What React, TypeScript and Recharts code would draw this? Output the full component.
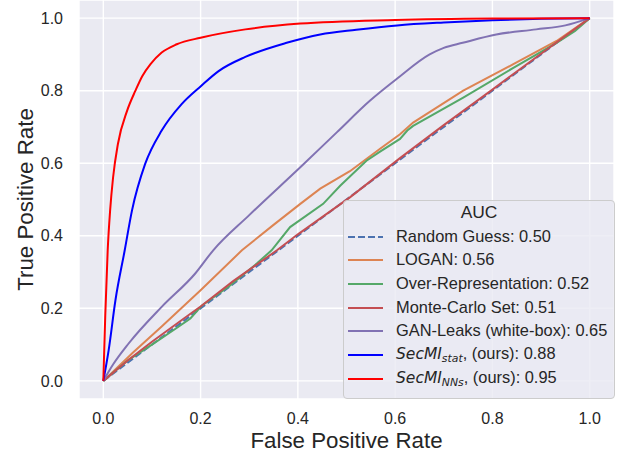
import React from 'react'
import { LineChart, Line, XAxis, YAxis, CartesianGrid, Legend } from 'recharts'

// ROC points, per method (false positive rate / true positive rate)
const fprRandom = [0, 1]
const tprRandom = [0, 1]

const fprLogan = [0, 0.06, 0.12, 0.2, 0.285, 0.35, 0.405, 0.446, 0.507, 0.569, 0.61, 0.637, 0.74, 0.843, 0.932, 1]
const tprLogan = [0, 0.077, 0.15, 0.25, 0.36, 0.43, 0.488, 0.53, 0.578, 0.64, 0.68, 0.712, 0.8, 0.873, 0.937, 1]

const fprOver = [0, 0.052, 0.1, 0.15, 0.179, 0.203, 0.26, 0.316, 0.346, 0.384, 0.452, 0.487, 0.541, 0.569, 0.61, 0.625, 0.637, 0.74, 0.843, 0.932, 0.97, 1]
const tprOver = [0, 0.058, 0.1, 0.145, 0.172, 0.208, 0.262, 0.324, 0.36, 0.424, 0.488, 0.538, 0.607, 0.632, 0.667, 0.69, 0.703, 0.781, 0.863, 0.932, 0.965, 1]

const fprMonte = [0, 0.05, 0.1, 0.172, 0.2, 0.267, 0.357, 0.4, 0.507, 0.61, 0.7, 0.8, 0.9, 1]
const tprMonte = [0, 0.056, 0.108, 0.178, 0.205, 0.275, 0.36, 0.404, 0.506, 0.614, 0.705, 0.803, 0.902, 1]

const fprGan = [0, 0.02, 0.052, 0.12, 0.189, 0.226, 0.3, 0.405, 0.48, 0.548, 0.603, 0.671, 0.7, 0.739, 0.808, 0.89, 0.95, 1]
const tprGan = [0, 0.045, 0.103, 0.204, 0.296, 0.36, 0.457, 0.589, 0.685, 0.772, 0.832, 0.9, 0.918, 0.932, 0.955, 0.969, 0.98, 1]

const fprStat = [0, 0.011, 0.025, 0.044, 0.059, 0.086, 0.12, 0.161, 0.201, 0.237, 0.292, 0.377, 0.446, 0.52, 0.604, 0.7, 0.8, 0.9, 1]
const tprStat = [0, 0.085, 0.223, 0.36, 0.47, 0.598, 0.69, 0.763, 0.813, 0.854, 0.893, 0.932, 0.955, 0.968, 0.98, 0.988, 0.994, 0.998, 1]

const fprNns = [0, 0.004, 0.009, 0.014, 0.02, 0.03, 0.049, 0.066, 0.08, 0.097, 0.12, 0.151, 0.2, 0.292, 0.405, 0.6, 0.8, 1]
const tprNns = [0, 0.18, 0.36, 0.47, 0.56, 0.653, 0.745, 0.8, 0.84, 0.873, 0.905, 0.928, 0.946, 0.969, 0.985, 0.995, 0.999, 1]

const ticks = [0, 0.2, 0.4, 0.6, 0.8, 1.0]

const seriesNames = ['Random Guess', 'LOGAN', 'Over-Representation', 'Monte-Carlo Set', 'GAN-Leaks (white-box)', 'SecMI_stat', 'SecMI_NNs']
const seriesAuc = ['0.50', '0.56', '0.52', '0.51', '0.65', '0.88', '0.95']
const seriesColors = ['#4C72B0', '#DD8452', '#55A868', '#C44E52', '#8172B3', '#0000FF', '#FF0000']

const zip = (xs: number[], ys: number[]) => xs.map((x, i) => ({ x, y: ys[i] }))

const seriesData = [
  zip(fprRandom, tprRandom),
  zip(fprLogan, tprLogan),
  zip(fprOver, tprOver),
  zip(fprMonte, tprMonte),
  zip(fprGan, tprGan),
  zip(fprStat, tprStat),
  zip(fprNns, tprNns),
]

const FONT = '"Liberation Sans", Arial, sans-serif'
const TEXT = '#262626'

function LegendLabel({ name, auc }: { name: string; auc: string }) {
  if (name.startsWith('SecMI_')) {
    const sub = name.slice(6)
    return (
      <span>
        <span style={{ fontStyle: 'italic', fontFamily: '"DejaVu Sans", sans-serif', fontSize: 15.5 }}>
          SecMI
          <span style={{ fontSize: '0.7em', position: 'relative', top: '0.3em' }}>{sub}</span>
        </span>
        , (ours): {auc}
      </span>
    )
  }
  return <span>{name}: {auc}</span>
}

function renderLegend(props: any) {
  const payload: any[] = props.payload || []
  // keep the plotting order, not recharts' alphabetical order
  const ordered = seriesNames
    .map((n) => payload.find((p) => p.value === n))
    .filter(Boolean)
  return (
    <div
      style={{
        boxSizing: 'border-box',
        width: 272,
        height: 199,
        border: '1px solid #CCCCCC',
        borderRadius: 4,
        background: 'rgba(234,234,242,0.8)',
        fontFamily: FONT,
        fontSize: 16.4,
        color: TEXT,
      }}
    >
      <div style={{ height: 23.7, lineHeight: '23.7px', textAlign: 'center', fontSize: 17.4 }}>AUC</div>
      {ordered.map((entry: any, i: number) => {
        const idx = seriesNames.indexOf(entry.value)
        const dash = entry.payload?.strokeDasharray
        return (
          <div key={i} style={{ height: 23.7, lineHeight: '23.7px', display: 'flex', alignItems: 'center', whiteSpace: 'nowrap' }}>
            <svg width={52} height={23.7} style={{ flex: 'none' }}>
              <line x1={4} x2={39} y1={12} y2={12} stroke={entry.color} strokeWidth={2} strokeDasharray={dash} />
            </svg>
            <LegendLabel name={entry.value} auc={seriesAuc[idx]} />
          </div>
        )
      })}
    </div>
  )
}

export default function App() {
  return (
    <div style={{ position: 'absolute', left: 0, top: 0, width: 621, height: 456, background: '#fff' }}>
      <LineChart width={621} height={456} margin={{ top: 0, right: 7, bottom: 0, left: 0 }}>
        <CartesianGrid stroke="#FFFFFF" strokeWidth={1.4} fill="#EAEAF2" fillOpacity={1} />
        <XAxis
          type="number"
          dataKey="x"
          domain={[-0.05, 1.05]}
          ticks={ticks}
          tickFormatter={(v: number) => v.toFixed(1)}
          height={57}
          axisLine={false}
          tickLine={false}
          tickSize={0}
          tickMargin={14}
          tick={{ fontFamily: FONT, fontSize: 16, fill: TEXT }}
          allowDataOverflow
          label={{
            content: (p: any) => {
              const vb = p.viewBox
              return (
                <text x={vb.x + vb.width / 2} y={448} textAnchor="middle" fontFamily={FONT} fontSize={22.3} fill={TEXT}>
                  False Positive Rate
                </text>
              )
            },
          }}
        />
        <YAxis
          type="number"
          dataKey="y"
          domain={[-0.05, 1.05]}
          ticks={ticks}
          tickFormatter={(v: number) => v.toFixed(1)}
          width={79}
          axisLine={false}
          tickLine={false}
          tickSize={0}
          tickMargin={16}
          tick={{ fontFamily: FONT, fontSize: 16, fill: TEXT }}
          allowDataOverflow
          label={{
            content: (p: any) => {
              const vb = p.viewBox
              const cx = 33
              const cy = vb.y + vb.height / 2
              return (
                <text
                  x={cx}
                  y={cy}
                  transform={`rotate(-90 ${cx} ${cy})`}
                  textAnchor="middle"
                  fontFamily={FONT}
                  fontSize={22.3}
                  fill={TEXT}
                >
                  True Positive Rate
                </text>
              )
            },
          }}
        />
        <Legend
          layout="vertical"
          align="center"
          verticalAlign="middle"
          content={renderLegend}
          wrapperStyle={{ left: 343, top: 200, width: 272, height: 199 }}
        />
        {seriesData.map((d, i) => (
          <Line
            key={seriesNames[i]}
            name={seriesNames[i]}
            data={d}
            dataKey="y"
            type={i >= 4 ? 'monotone' : 'linear'}
            stroke={seriesColors[i]}
            strokeWidth={2}
            strokeDasharray={i === 0 ? '7 3' : undefined}
            dot={false}
            activeDot={false}
            isAnimationActive={false}
          />
        ))}
      </LineChart>
    </div>
  )
}
